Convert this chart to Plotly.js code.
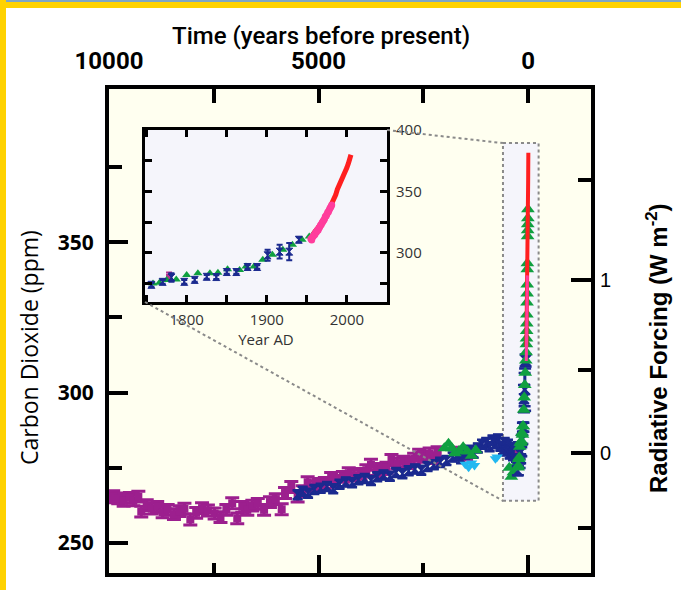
<!DOCTYPE html>
<html><head><meta charset="utf-8">
<script src="https://cdn.plot.ly/plotly-3.0.1.min.js"></script>
<style>
html,body{margin:0;padding:0;background:#fff;}
#wrap{position:relative;width:681px;height:590px;overflow:hidden;}
#chart{width:681px;height:590px;}
.band{position:absolute;}
</style></head><body>
<div id="wrap"><div id="chart"></div>
<div class="band" style="left:0;top:0;width:681px;height:2px;background:#7fa6c4"></div>
<div class="band" style="left:0;top:2px;width:681px;height:6px;background:#ffd200"></div>
<div class="band" style="left:0;top:0;width:6px;height:590px;background:#ffd200"></div>
</div>
<script>
// ---------- DATA ----------
// Ice-core CO2, years before present
const purpleBP  = [10000,9900,9780,9650,9500,9420,9300,9230,9100,8980,8850,8720,8600,8450,8320,8200,8060,7920,7780,7640,7480,7340,7200,7060,6940,6820,6700,6580,6450,6300,6160,6020,5880,5800,5650,5500,5380,5260,5120,5000,4850,4700,4560,4420,4280,4150,4000,3860,3750,3620,3500,3380,3260,3120,2980,2850,2720,2600,2480,2350,2240,2160,1650,1480];
const purplePPM = [265.2,265.6,264.8,264.0,265.0,264.2,265.4,260.4,262.6,261.4,262.0,260.2,261.0,259.6,260.6,261.4,257.8,260.0,261.6,260.8,259.8,258.6,261.0,263.2,258.2,262.0,261.0,262.4,263.0,261.0,263.6,264.6,261.2,266.6,268.6,265.4,267.2,270.2,268.8,269.6,270.0,271.6,270.6,272.0,273.2,272.4,273.0,274.2,276.0,273.8,274.6,275.0,277.6,276.4,277.0,276.6,278.0,279.4,278.6,279.8,278.2,280.2,280.0,279.4];

const blueBP  = [5500,5380,5250,5100,4950,4800,4650,4500,4350,4200,4050,3900,3750,3600,3450,3300,3150,3000,2850,2700,2550,2400,2250,2100,1950,1800,1700,1600,1500,1400,1300,1200,1100,1000,920,850,780,720,660,600,560,520,480,440,400,360,320,290];
const bluePPM = [266.0,267.2,266.5,267.8,268.2,268.8,268.0,269.5,270.3,270.0,271.0,271.4,270.8,272.0,272.6,272.2,273.4,273.0,274.0,274.6,274.2,275.4,276.0,276.8,277.4,278.6,279.2,278.0,279.6,280.8,279.8,281.6,282.8,283.4,282.0,284.2,283.0,284.6,282.2,281.0,283.4,280.6,282.8,279.6,281.8,279.0,280.6,278.4];

const greenBP  = [2000,1900,1820,1750,1650,1550,1450,1350,1250,450,400,350,300];
const greenPPM = [281.5,283.0,281.5,279.8,280.6,281.8,280.4,279.0,280.8,275.0,272.0,273.5,276.0];

const cyanBP  = [1500,1420,1350,1280,780,740];
const cyanPPM = [276.2,275.2,276.6,275.8,278.0,278.6];

// Recent record, calendar years AD
const purpleAD = [1778];
const purpleADppm = [280.5];

const blueAD    = [1756,1770,1781,1797,1810,1825,1837,1850,1862,1876,1888,1901,1916,1928,1940];
const blueADppm = [274.0,276.4,280.0,276.4,278.0,280.5,280.3,284.4,284.4,288.5,288.5,298.0,301.0,301.0,310.7];
const blueADerr = [1.5,1.5,3.5,1.5,1.5,1.5,1.5,1.5,1.5,1.5,1.5,4.5,5.5,7.0,2.0];

const greenAD    = [1758,1766,1775,1787,1800,1814,1829,1839,1851,1866,1874,1884,1895,1907,1920,1932,1944,1953,1959];
const greenADppm = [275.1,275.7,277.9,278.4,282.0,283.3,283.3,283.9,286.6,286.0,288.8,288.8,294.3,298.4,302.5,306.6,310.7,313.4,316.1];

const greenModernAD    = [1962,1965,1968,1970,1973,1976,1978,1980,1982,1987,1989,1991,1993,1995];
const greenModernADppm = [318.0,320.5,323.0,326.0,330.0,333.0,336.0,341.0,343.0,352.0,354.0,356.0,358.0,361.0];

const pinkAD    = [1955,1956,1957,1958,1959,1960,1961,1962,1963,1964,1965,1966,1967,1968,1969,1970,1971,1972,1973,1974,1975,1976,1977,1978,1979,1980,1981];
const pinkADppm = [311.5,310.5,313.0,313.5,314.5,315.0,316.5,317.0,318.5,318.5,320.0,321.0,322.5,323.0,324.5,325.5,326.5,327.5,329.5,330.0,331.5,333.0,333.5,335.0,336.5,337.5,339.0];

const redAD    = [1958,1960,1962,1964,1966,1968,1970,1972,1974,1976,1978,1980,1982,1984,1986,1988,1990,1992,1994,1996,1998,2000,2002,2004,2005];
const redADppm = [315.3,316.9,318.4,319.6,321.4,323.0,325.7,327.5,330.2,332.0,335.4,338.7,341.1,344.4,347.2,351.6,354.4,356.4,358.8,362.6,366.7,369.5,373.2,377.5,379.8];

// Axis tick labels
const topTickVals = [10000, 5000, 0];
const topTickText = ['10000', '5000', '0'];
const leftTickVals = [250, 300, 350];
const forcingMajor = [0, 1];
const forcingMinor = [-0.5, 0.5, 1.5];
const insetXTicks = [1800, 1900, 2000];
const insetYTicks = [300, 350, 400];

// ---------- HELPERS ----------
const PRESENT_AD = 2000;
const toBP = a => a.map(v => PRESENT_AD - v);
const C0 = 280;                                   // forcing reference concentration
const forcingToPPM = f => C0 * Math.exp(f / 5.35);

const XR = [10000, -1500], YR = [240, 401];
const PL = 109, PR = 591, PT = 89, PB = 573;     // plot box in pixels
const pxX = px => (px - PL) / (PR - PL);
const pxY = py => (PB - py) / (PB - PT);
const dX = x => (XR[0] - x) / (XR[0] - XR[1]);
const dY = y => (y - YR[0]) / (YR[1] - YR[0]);

const PURPLE = '#9c1f8e', BLUE = '#1b2a8f', GREEN = '#10a040', CYAN = '#22b8f0', RED = '#ff1f1f', PINK = '#ff3d9c';

// ---------- TRACES ----------
const traces = [
  // empty traces so the top and right axes get their own subplots
  {x: [], y: [], xaxis: 'x2', yaxis: 'y', type: 'scatter', mode: 'markers', hoverinfo: 'skip'},
  {x: [], y: [], xaxis: 'x', yaxis: 'y2', type: 'scatter', mode: 'markers', hoverinfo: 'skip'},
  {x: purpleBP, y: purplePPM, mode: 'markers', type: 'scatter',
   marker: {symbol: 'square', size: 8, color: PURPLE},
   error_y: {type: 'constant', value: 1.8, width: 7, thickness: 3, color: PURPLE}},
  {x: blueBP, y: bluePPM, mode: 'markers', type: 'scatter',
   marker: {symbol: 'hourglass', size: 9, color: BLUE, line: {color: BLUE, width: 1.5}},
   error_y: {type: 'constant', value: 1.5, width: 5, thickness: 2.5, color: BLUE}},
  {x: cyanBP, y: cyanPPM, mode: 'markers', type: 'scatter',
   marker: {symbol: 'triangle-down', size: 10, color: CYAN}},
  {x: greenBP, y: greenPPM, mode: 'markers', type: 'scatter',
   marker: {symbol: 'triangle-up', size: 12, color: GREEN}},
  // recent record in main panel
  {x: toBP(purpleAD), y: purpleADppm, mode: 'markers', type: 'scatter',
   marker: {symbol: 'square', size: 8, color: PURPLE}},
  {x: toBP(blueAD), y: blueADppm, mode: 'markers', type: 'scatter',
   marker: {symbol: 'hourglass', size: 10, color: BLUE, line: {color: BLUE, width: 1.5}},
   error_y: {type: 'data', array: blueADerr, width: 6, thickness: 2.5, color: BLUE}},
  {x: toBP(greenAD), y: greenADppm, mode: 'markers', type: 'scatter',
   marker: {symbol: 'triangle-up', size: 12, color: GREEN}},
  {x: toBP(greenModernAD), y: greenModernADppm, mode: 'markers', type: 'scatter',
   marker: {symbol: 'triangle-up', size: 12, color: GREEN}},
  {x: toBP(redAD), y: redADppm, mode: 'lines', type: 'scatter',
   line: {color: RED, width: 4}},
  {x: toBP(pinkAD), y: pinkADppm, mode: 'lines', type: 'scatter',
   line: {color: PINK, width: 3}},
  // inset
  {x: purpleAD, y: purpleADppm, xaxis: 'x3', yaxis: 'y3', mode: 'markers', type: 'scatter',
   marker: {symbol: 'square', size: 6, color: '#b0308f'},
   error_y: {type: 'constant', value: 3.5, width: 3, thickness: 2, color: '#b0308f'}},
  {x: greenAD, y: greenADppm, xaxis: 'x3', yaxis: 'y3', mode: 'markers', type: 'scatter',
   marker: {symbol: 'triangle-up', size: 8, color: GREEN}},
  {x: blueAD, y: blueADppm, xaxis: 'x3', yaxis: 'y3', mode: 'markers', type: 'scatter',
   marker: {symbol: 'hourglass', size: 7, color: BLUE, line: {color: BLUE, width: 1}},
   error_y: {type: 'data', array: blueADerr, width: 3, thickness: 2, color: BLUE}},
  {x: redAD, y: redADppm, xaxis: 'x3', yaxis: 'y3', mode: 'lines', type: 'scatter',
   line: {color: RED, width: 5}},
  {x: pinkAD, y: pinkADppm, xaxis: 'x3', yaxis: 'y3', mode: 'markers', type: 'scatter',
   marker: {symbol: 'circle', size: 7, color: PINK}}
];

// ---------- LAYOUT ----------
const insetDom = {x: [pxX(145), pxX(387)], y: [pxY(302), pxY(130)]};
const zoomBox = {x0: 600, x1: -250, y0: 264, y1: 383};

const condensed = 'Roboto, "Liberation Sans", sans-serif';
const myriad = '"Open Sans", "Noto Sans", sans-serif';
const arial = '"Liberation Sans", Arial, sans-serif';

const axBase = {showgrid: false, zeroline: false, showline: true, linecolor: '#000',
  ticks: 'inside', tickcolor: '#000', tickmode: 'array'};

const layout = {
  width: 681, height: 590,
  margin: {l: PL, r: 681 - PR, t: PT, b: 590 - PB, pad: 0},
  paper_bgcolor: '#ffffff', plot_bgcolor: 'rgba(0,0,0,0)',
  showlegend: false,
  xaxis: Object.assign({}, axBase, {range: XR, linewidth: 4, tickvals: [5000, 0], ticklen: 18, tickwidth: 4,
    showticklabels: false, anchor: 'y',
    minor: {tickmode: 'array', tickvals: [7500, 2500], ticks: 'inside', ticklen: 10, tickwidth: 4, tickcolor: '#000', showgrid: false}}),
  xaxis2: Object.assign({}, axBase, {range: XR, overlaying: 'x', side: 'top', anchor: 'y', linewidth: 4,
    tickvals: topTickVals, ticktext: topTickText, ticklen: 14, tickwidth: 4,
    tickfont: {family: condensed, size: 24, color: '#000', weight: 'bold'}, ticklabelstandoff: 6,
    minor: {tickmode: 'array', tickvals: [7500, 2500], ticks: 'inside', ticklen: 14, tickwidth: 4, tickcolor: '#000', showgrid: false}}),
  yaxis: Object.assign({}, axBase, {range: YR, linewidth: 4, tickvals: leftTickVals, ticklen: 19, tickwidth: 4, anchor: 'x',
    tickfont: {family: myriad, size: 21, color: '#000', weight: 'bold'}, ticklabelstandoff: 7,
    minor: {tickmode: 'array', tickvals: [275, 325, 375], ticks: 'inside', ticklen: 13, tickwidth: 4, tickcolor: '#000', showgrid: false}}),
  yaxis2: Object.assign({}, axBase, {range: YR, overlaying: 'y', side: 'right', anchor: 'x', linewidth: 4,
    tickvals: forcingMajor.map(forcingToPPM), ticktext: forcingMajor.map(String), ticklen: 20, tickwidth: 4,
    tickfont: {family: arial, size: 20, color: '#000'}, ticklabelstandoff: 1,
    minor: {tickmode: 'array', tickvals: forcingMinor.map(forcingToPPM), ticks: 'inside', ticklen: 13, tickwidth: 4, tickcolor: '#000', showgrid: false}}),
  xaxis3: Object.assign({}, axBase, {domain: insetDom.x, anchor: 'y3', range: [1748, 2050], linewidth: 3, mirror: 'ticks',
    tickvals: insetXTicks, ticklen: 7, tickwidth: 3,
    tickfont: {family: myriad, size: 15, color: '#333'}, ticklabelstandoff: 2,
    title: {text: 'Year AD', font: {family: myriad, size: 15, color: '#333'}, standoff: 0},
    minor: {tickmode: 'array', tickvals: [1750, 1850, 1950], ticks: 'inside', ticklen: 7, tickwidth: 3, tickcolor: '#000', showgrid: false}}),
  yaxis3: Object.assign({}, axBase, {domain: insetDom.y, anchor: 'x3', side: 'right', range: [260, 400], linewidth: 3, mirror: 'ticks',
    tickvals: insetYTicks, ticklen: 7, tickwidth: 3,
    tickfont: {family: myriad, size: 15, color: '#333'}, ticklabelstandoff: 3,
    minor: {tickmode: 'array', tickvals: [275, 325, 375], ticks: 'inside', ticklen: 7, tickwidth: 3, tickcolor: '#000', showgrid: false}}),
  shapes: [
    {type: 'rect', xref: 'paper', yref: 'paper', x0: 0, x1: 1, y0: 0, y1: 1, layer: 'below',
     fillcolor: '#fffff0', line: {width: 0}},
    {type: 'rect', xref: 'paper', yref: 'paper', x0: insetDom.x[0], x1: insetDom.x[1], y0: insetDom.y[0], y1: insetDom.y[1],
     layer: 'below', fillcolor: '#f5f5fb', line: {width: 0}},
    {type: 'rect', xref: 'x', yref: 'y', x0: zoomBox.x0, x1: zoomBox.x1, y0: zoomBox.y0, y1: zoomBox.y1, layer: 'below',
     fillcolor: '#f5f5fb', line: {color: '#8a8a8a', width: 2, dash: 'dot'}},
    {type: 'line', xref: 'paper', yref: 'paper', x0: insetDom.x[1], y0: insetDom.y[1], x1: dX(zoomBox.x0), y1: dY(zoomBox.y1),
     layer: 'above', line: {color: '#8a8a8a', width: 2, dash: 'dot'}},
    {type: 'line', xref: 'paper', yref: 'paper', x0: insetDom.x[0], y0: insetDom.y[0], x1: dX(zoomBox.x0), y1: dY(zoomBox.y0),
     layer: 'above', line: {color: '#8a8a8a', width: 2, dash: 'dot'}}
  ],
  annotations: [
    {text: 'Time (years before present)', xref: 'paper', yref: 'paper', x: pxX(321), y: pxY(36),
     xanchor: 'center', yanchor: 'middle', showarrow: false, font: {family: condensed, size: 24, color: '#000', weight: 500}},
    {text: 'Carbon Dioxide (ppm)', xref: 'paper', yref: 'paper', x: pxX(29), y: pxY(348), textangle: -90,
     xanchor: 'center', yanchor: 'middle', showarrow: false, font: {family: myriad, size: 23, color: '#000'}},
    {text: 'Radiative Forcing (W m<sup>-2</sup>)', xref: 'paper', yref: 'paper', x: pxX(657), y: pxY(348), textangle: -90,
     xanchor: 'center', yanchor: 'middle', showarrow: false, font: {family: arial, size: 24, color: '#000', weight: 'bold'}}
  ]
};

Plotly.newPlot('chart', traces, layout, {displayModeBar: false, staticPlot: true});
</script>
</body></html>
